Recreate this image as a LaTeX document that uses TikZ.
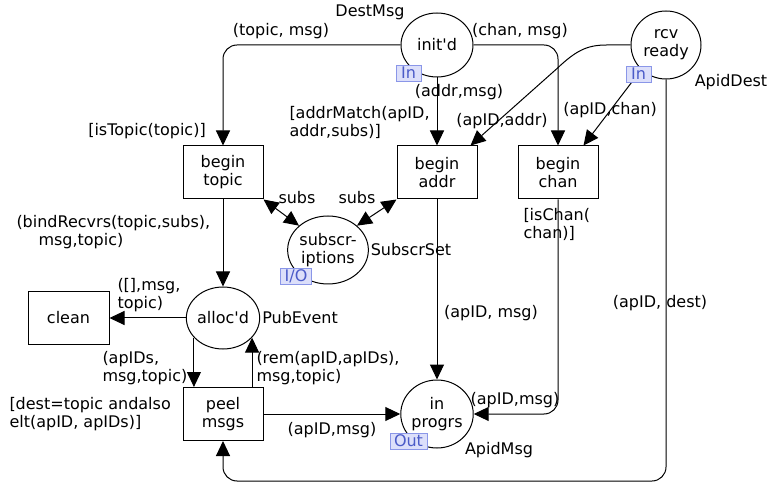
\documentclass[tikz,border=0pt]{standalone}
\usepackage{fontspec}
\setmainfont{DejaVu Sans}[Ligatures=TeXOff]
\usetikzlibrary{arrows.meta,shapes.geometric,calc}
\definecolor{portfill}{HTML}{DCDFFA}
\definecolor{portline}{HTML}{8A96E8}
\definecolor{porttext}{HTML}{4B5BC8}

\begin{document}
\begin{tikzpicture}[x=1pt,y=-1pt,>={Triangle[length=15pt,width=14pt]},
 font=\fontsize{16}{18}\selectfont,line width=1pt,
 place/.style={ellipse,draw,inner sep=0pt,align=center},
 trans/.style={draw,minimum width=80pt,minimum height=53pt,inner sep=0pt,align=center},
 port/.style={fill=portfill,draw=portline,text=porttext,line width=.8pt,
  minimum height=16pt,minimum width=25pt,inner xsep=4pt,inner ysep=0pt},
 lbl/.style={inner sep=0pt,align=left}]
\useasboundingbox (0,0) rectangle (771,486);
% places
\node[place,minimum width=72pt,minimum height=64pt] (initd) at (437,45) {init'd};
\node[place,minimum width=70pt,minimum height=68pt] (rcvready) at (666,45) {rcv\\ready};
\node[place,minimum width=80pt,minimum height=68pt] (subscr) at (328,250) {subscr-\\iptions};
\node[place,minimum width=70pt,minimum height=62pt] (allocd) at (223,318) {alloc'd};
\node[place,minimum width=70pt,minimum height=68pt] (inprogrs) at (437,414) {in\\progrs};
% transitions
\foreach \name/\x/\y/\txt in {begintopic/223/172.5/{begin\\topic},beginaddr/437/172.5/{begin\\addr},
  beginchan/558/172.5/{begin\\chan},peelmsgs/223/414/{peel\\msgs}}
 \node[trans] (\name) at (\x,\y) {\txt};
\node[trans,minimum width=81pt,minimum height=52pt] (clean) at (68.5,318) {clean};
\coordinate (botright) at (666,481);
% arcs
\draw[->,rounded corners=14pt] (initd.west) -| (begintopic.north);
\draw[->] (initd.south) -- (beginaddr.north);
\draw[->,rounded corners=14pt] (initd.east) -| (beginchan.north);
\draw[->] (rcvready.west) -- ++(-24,0) .. controls ++(-20,0) and ++(19,-18) .. ++(-50,24)
 -- ([xshift=-7pt]beginaddr.north east);
\draw[->] (rcvready.225) -- ([xshift=-15pt]beginchan.north east);
\draw[->,rounded corners=14pt] (rcvready.south) -- (botright) -| (peelmsgs.south);
\draw[<->] (begintopic.south east) -- (subscr.140);
\draw[<->] (beginaddr.south west) -- (subscr.40);
\draw[->] (begintopic.south) -- (allocd.north);
\draw[->] (beginaddr.south) -- (inprogrs.north);
\draw[->,rounded corners=14pt] (beginchan.south) |- (inprogrs.east);
\draw[->] (allocd.west) -- (clean.east);
\draw[->] (allocd.214) -- (allocd.214 |- peelmsgs.north);
\draw[->] (peelmsgs.north -| allocd.326) -- (allocd.326);
\draw[->] (peelmsgs.east) -- (inprogrs.west);
% port tags
\node[port] (initdport) at (408.5,73) {In};
\node[port] (rcvport) at (638.5,74) {In};
\node[port] (subscrport) at (296,276) {I/O};
\node[port] (inprogrsport) at (408.5,441) {Out};
% colour sets
\node (tDestMsg) at (370,12) {DestMsg};
\node (tApidDest) at (731,82) {ApidDest};
\node (tSubscrSet) at (411,250) {SubscrSet};
\node (tPubEvent) at (300,318) {PubEvent};
\node (tApidMsg) at (499,450) {ApidMsg};
% arc inscriptions and guards
\node[lbl] (eTopicMsg) at (281,31) {(topic, msg)};
\node[lbl] (eChanMsg) at (520,31) {(chan, msg)};
\node[lbl] (eAddrMsg) at (459,92) {(addr,msg)};
\node[lbl,anchor=west] (gAddr) at (289,122) {[addrMatch(apID,\\addr,subs)]};
\node[lbl] (gTopic) at (147,131) {[isTopic(topic)]};
\node[lbl] (eApidAddr) at (502,121) {(apID,addr)};
\node[lbl] (eApidChan) at (610,110) {(apID,chan)};
\node[lbl] (eSubsL) at (297,198) {subs};
\node[lbl] (eSubsR) at (357,198) {subs};
\node[lbl,anchor=west] (gChan) at (523,224) {[isChan(\\chan)]};
\node[lbl,anchor=west] (eBind) at (16,232) {(bindRecvrs(topic,subs),\\\hspace*{22pt}msg,topic)};
\node[lbl,anchor=west] (eClean) at (117,295) {([],msg,\\topic)};
\node[lbl,anchor=west] (eApids) at (102,368) {(apIDs,\\msg,topic)};
\node[lbl,anchor=west] (eRem) at (256,368) {(rem(apID,apIDs),\\msg,topic)};
\node[lbl,anchor=west] (gDest) at (9,414) {[dest=topic andalso\\elt(apID, apIDs)]};
\node[lbl] (ePeelMsg) at (332,430) {(apID,msg)};
\node[lbl] (eAddrOut) at (491,313) {(apID, msg)};
\node[lbl] (eChanOut) at (515,400) {(apID,msg)};
\node[lbl] (eDest) at (660,303) {(apID, dest)};
\end{tikzpicture}
\end{document}
